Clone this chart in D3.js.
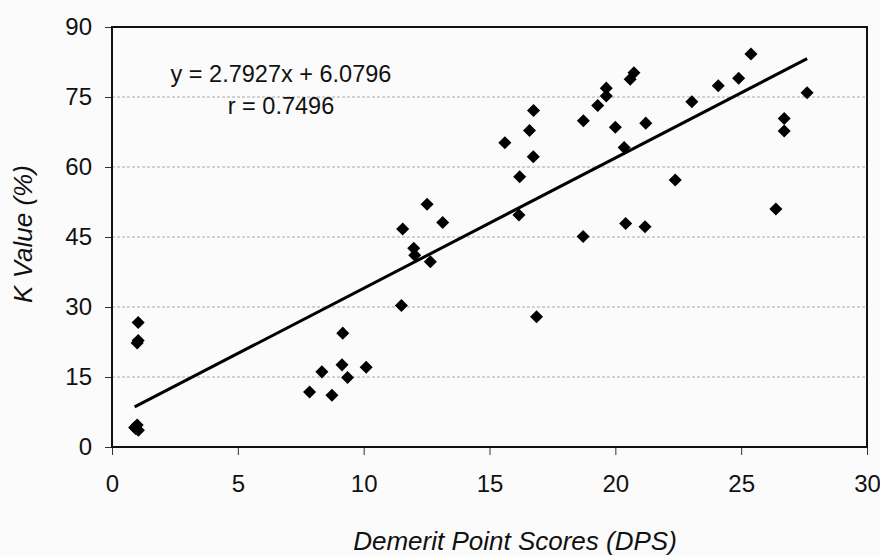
<!DOCTYPE html>
<html>
<head>
  <meta charset="UTF-8">
  <title>K Value vs DPS</title>
  <script src="https://d3js.org/d3.v7.min.js"></script>
  <style>
    body { margin: 0; background: #fbfbfb; }
    svg { display: block; font-family: "Liberation Sans", Arial, sans-serif; }
  </style>
</head>
<body>
  <svg></svg>
<script>
  // data
  let dps = [1.04, 1.04, 1.0, 0.9, 1.0, 1.05, 0.95, 7.85, 8.34, 8.74, 9.14, 9.17, 9.36, 10.1,
    11.5, 11.55, 11.99, 12.03, 12.52, 12.65, 13.14, 15.61, 16.17, 16.2, 16.59, 16.74, 16.75, 16.87,
    18.72, 18.73, 19.3, 19.64, 19.64, 20.0, 20.35, 20.41, 20.59, 20.74, 21.18, 21.21, 22.38,
    23.04, 24.09, 24.9, 25.39, 26.38, 26.71, 26.71, 27.62];
  let kValue = [26.7, 22.8, 22.3, 4.2, 4.7, 3.6, 3.9, 11.8, 16.1, 11.1, 17.6, 24.4, 14.9, 17.1,
    30.3, 46.7, 42.6, 41.1, 52.0, 39.7, 48.1, 65.2, 49.7, 57.9, 67.8, 62.2, 72.1, 27.9,
    45.1, 69.9, 73.2, 75.2, 76.9, 68.5, 64.2, 47.9, 78.8, 80.2, 47.2, 69.4, 57.2,
    74.0, 77.4, 79.0, 84.2, 51.0, 67.7, 70.4, 75.9];
  let xTicks = [0, 5, 10, 15, 20, 25, 30];
  let yTicks = [0, 15, 30, 45, 60, 75, 90];
  let slope = 2.7927, intercept = 6.0796, rValue = 0.7496;

  let width = 880, height = 556;
  let margin = { left: 112, right: 13, top: 27, bottom: 109 };

  let svg = d3.select("svg").attr("width", width).attr("height", height);

  let x = d3.scaleLinear().domain([0, 30]).range([margin.left, width - margin.right]);
  let y = d3.scaleLinear().domain([0, 90]).range([height - margin.bottom, margin.top]);

  // gridlines
  svg.append("g")
    .selectAll("line")
    .data(yTicks.filter(d => d > 0 && d < 90))
    .enter()
    .append("line")
    .attr("x1", x(0)).attr("x2", x(30))
    .attr("y1", d => y(d)).attr("y2", d => y(d))
    .attr("stroke", "#a8a8a8")
    .attr("stroke-width", 1)
    .attr("stroke-dasharray", "3,2");

  // axes
  let xAxis = svg.append("g")
    .attr("transform", "translate(0," + y(0) + ")")
    .call(d3.axisBottom(x).tickValues(xTicks).tickSize(8).tickSizeOuter(0).tickPadding(20));
  let yAxis = svg.append("g")
    .attr("transform", "translate(" + x(0) + ",0)")
    .call(d3.axisLeft(y).tickValues(yTicks).tickSize(7).tickSizeOuter(0).tickPadding(13));

  [xAxis, yAxis].forEach(a => {
    a.select(".domain").remove();
    a.selectAll("line").attr("stroke", "#333").attr("stroke-width", 1);
    a.selectAll("text").attr("font-size", 24).attr("fill", "#111")
      .attr("font-family", "'Liberation Sans', Arial, sans-serif");
  });

  // plot frame
  svg.append("rect")
    .attr("x", x(0)).attr("y", y(90))
    .attr("width", x(30) - x(0)).attr("height", y(0) - y(90))
    .attr("fill", "none").attr("stroke", "#111").attr("stroke-width", 2);

  // regression line
  let ext = d3.extent(dps);
  svg.append("line")
    .attr("x1", x(ext[0])).attr("y1", y(slope * ext[0] + intercept))
    .attr("x2", x(ext[1])).attr("y2", y(slope * ext[1] + intercept))
    .attr("stroke", "#000").attr("stroke-width", 3);

  // points
  let diamond = d3.symbol().type(d3.symbolSquare).size(85);
  svg.append("g")
    .selectAll("path")
    .data(d3.range(dps.length))
    .enter()
    .append("path")
    .attr("d", diamond)
    .attr("transform", i => "translate(" + x(dps[i]) + "," + y(kValue[i]) + ") rotate(45)")
    .attr("fill", "#000");

  // equation
  svg.append("text")
    .attr("x", 281).attr("y", 82)
    .attr("text-anchor", "middle").attr("font-size", 23.5).attr("fill", "#111")
    .text("y = " + slope + "x + " + intercept);
  svg.append("text")
    .attr("x", 281).attr("y", 114)
    .attr("text-anchor", "middle").attr("font-size", 23.5).attr("fill", "#111")
    .text("r = " + rValue);

  // axis titles
  svg.append("text")
    .attr("x", 515).attr("y", 550)
    .attr("text-anchor", "middle").attr("font-size", 26).attr("font-style", "italic").attr("fill", "#111")
    .text("Demerit Point Scores (DPS)");
  svg.append("text")
    .attr("transform", "translate(32,234) rotate(-90)")
    .attr("text-anchor", "middle").attr("font-size", 26).attr("font-style", "italic").attr("fill", "#111")
    .text("K Value (%)");
</script>
</body>
</html>
